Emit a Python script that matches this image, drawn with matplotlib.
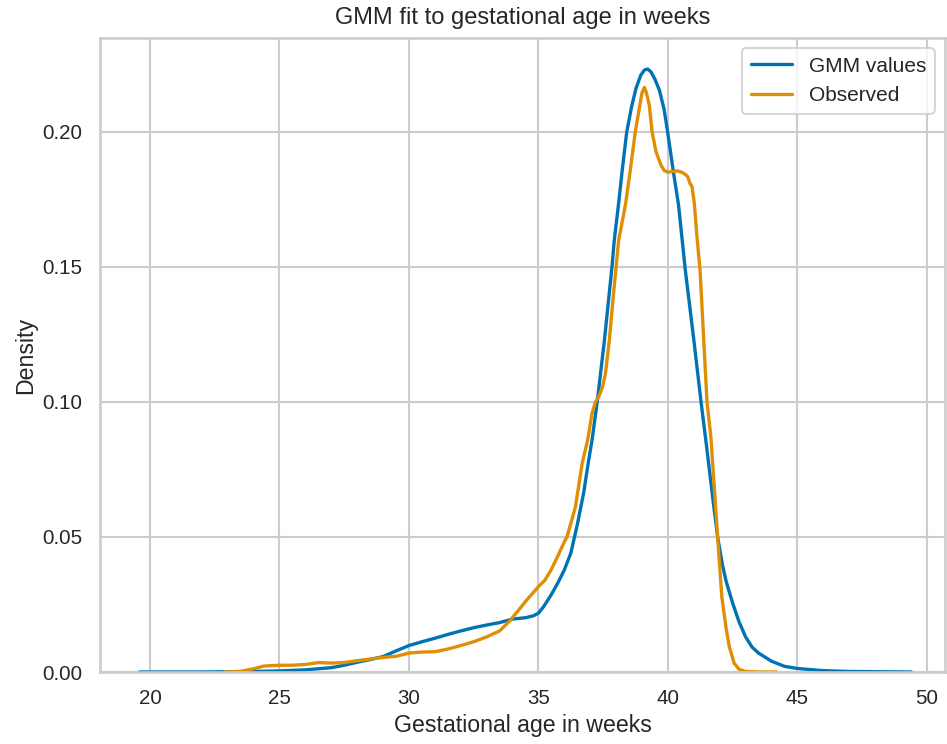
import matplotlib
matplotlib.use("Agg")
import matplotlib.pyplot as plt
import seaborn as sns

# GMM fitted density (blue)
gmm_x = [19.6, 21.0, 22.0, 23.0, 24.0, 25.0, 26.0, 27.0, 27.5, 28.0, 28.5, 29.0, 29.5,
         30.0, 30.5, 31.0, 31.5, 32.0, 32.5, 33.0, 33.5, 34.0, 34.5, 34.8, 35.0, 35.2,
         35.5, 35.75, 36.0, 36.25, 36.5, 36.75, 36.9, 37.07, 37.27, 37.55, 37.84, 37.93,
         38.09, 38.23, 38.41, 38.6, 38.77, 38.95, 39.1, 39.22, 39.35, 39.5, 39.67, 39.85,
         39.99, 40.21, 40.41, 40.67, 41.0, 41.28, 41.5, 41.75, 41.92, 42.1, 42.25, 42.5,
         42.75, 43.0, 43.25, 43.5, 44.0, 44.5, 45.0, 45.5, 46.0, 47.0, 48.0, 49.4]
gmm_y = [0.0, 0.0, 0.0, 0.0001, 0.0002, 0.0004, 0.0008, 0.0016, 0.0025, 0.0036, 0.0046,
         0.0057, 0.0078, 0.0098, 0.0112, 0.0125, 0.0139, 0.0152, 0.0164, 0.0174, 0.0183,
         0.0196, 0.0201, 0.0208, 0.0218, 0.0242, 0.0287, 0.0330, 0.0378, 0.0440, 0.0545,
         0.0665, 0.0760, 0.0859, 0.1000, 0.1230, 0.1500, 0.1600, 0.1730, 0.1853, 0.2000,
         0.2095, 0.2162, 0.2210, 0.2230, 0.2233, 0.2222, 0.2195, 0.2155, 0.2085, 0.2000,
         0.1853, 0.1730, 0.1490, 0.1230, 0.1000, 0.0830, 0.0630, 0.0500, 0.0400, 0.0335,
         0.0255, 0.0185, 0.0130, 0.0092, 0.0070, 0.0040, 0.0021, 0.0013, 0.0009, 0.0005,
         0.0002, 0.0001, 0.0]

# Observed KDE (orange)
obs_x = [22.9, 23.5, 24.0, 24.4, 25.0, 25.5, 26.0, 26.5, 27.0, 27.5, 28.0, 28.5, 29.0,
         29.5, 30.0, 30.5, 31.0, 31.5, 32.0, 32.5, 33.0, 33.5, 33.9, 34.2, 34.55, 35.0,
         35.25, 35.5, 35.75, 36.0, 36.1, 36.25, 36.43, 36.69, 36.9, 37.07, 37.2, 37.33,
         37.48, 37.59, 37.74, 37.87, 38.0, 38.1, 38.36, 38.54, 38.74, 38.9, 39.0, 39.09,
         39.17, 39.28, 39.39, 39.54, 39.73, 39.85, 39.99, 40.15, 40.37, 40.55, 40.67,
         40.76, 40.85, 40.93, 41.02, 41.11, 41.24, 41.51, 41.66, 41.92, 42.08, 42.25,
         42.37, 42.56, 42.75, 43.0, 43.5, 44.2]
obs_y = [0.0, 0.0002, 0.0012, 0.0022, 0.0025, 0.0025, 0.0028, 0.0035, 0.0033, 0.0035,
         0.0042, 0.0048, 0.0054, 0.0058, 0.0070, 0.0074, 0.0075, 0.0085, 0.0098, 0.0112,
         0.0130, 0.0152, 0.0190, 0.0225, 0.0267, 0.0316, 0.0340, 0.0380, 0.0430, 0.0482,
         0.0500, 0.0550, 0.0612, 0.0773, 0.0859, 0.0958, 0.1000, 0.1020, 0.1057, 0.1106,
         0.1230, 0.1370, 0.1500, 0.1600, 0.1730, 0.1853, 0.2000, 0.2090, 0.2145, 0.2165,
         0.2145, 0.2100, 0.2000, 0.1927, 0.1878, 0.1858, 0.1851, 0.1853, 0.1856, 0.1850,
         0.1843, 0.1835, 0.1810, 0.1798, 0.1736, 0.1625, 0.1490, 0.1000, 0.0870, 0.0500,
         0.0280, 0.0160, 0.0094, 0.0032, 0.0010, 0.0002, 0.0, 0.0]

x_ticks = [20, 25, 30, 35, 40, 45, 50]
y_ticks = [0.00, 0.05, 0.10, 0.15, 0.20]

sns.set_theme(style="whitegrid", context="talk")
plt.rcParams['font.family'] = ['Liberation Sans', 'DejaVu Sans']
pal = sns.color_palette("colorblind")

fig = plt.figure(figsize=(9.47, 7.44), dpi=100)
ax = fig.add_axes([100/947, 1 - 672/744, 845/947, (672 - 38)/744])

ax.plot(gmm_x, gmm_y, color=pal[0], lw=2.4, label="GMM values",
        solid_joinstyle="round")
ax.plot(obs_x, obs_y, color=pal[1], lw=2.4, label="Observed",
        solid_joinstyle="round")

ax.set_xlim(18.07, 50.7)
ax.set_ylim(0, 0.2348)
ax.set_xticks(x_ticks)
ax.set_yticks(y_ticks)
ax.set_yticklabels([f"{v:.2f}" for v in y_ticks])
ax.tick_params(labelsize=14.8, colors="#262626")
ax.set_xlabel("Gestational age in weeks", fontsize=16.7, color="#262626")
ax.set_ylabel("Density", fontsize=16.7, color="#262626")
ax.set_title("GMM fit to gestational age in weeks", fontsize=17, color="#262626", pad=10)
ax.legend(loc="upper right", fontsize=15)

fig.savefig("out.png", dpi=100)
